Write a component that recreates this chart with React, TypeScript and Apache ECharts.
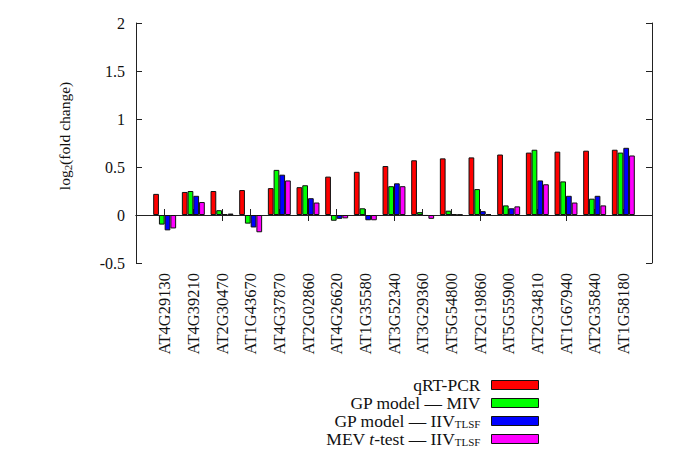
import React, { useEffect, useRef } from "react";
import * as echarts from "echarts";

const genes = [
  "AT4G29130", "AT4G39210", "AT2G30470", "AT1G43670", "AT4G37870", "AT2G02860",
  "AT4G26620", "AT1G35580", "AT3G52340", "AT3G29360", "AT5G54800", "AT2G19860",
  "AT5G55900", "AT2G34810", "AT1G67940", "AT2G35840", "AT1G58180",
];
const qrtPcr = [0.22, 0.24, 0.25, 0.26, 0.28, 0.29, 0.40, 0.45, 0.51, 0.57, 0.59, 0.60, 0.63, 0.65, 0.66, 0.67, 0.68];
const gpMiv = [-0.10, 0.25, 0.05, -0.09, 0.47, 0.31, -0.06, 0.07, 0.30, 0.03, 0.045, 0.27, 0.10, 0.68, 0.35, 0.17, 0.65];
const gpIiv = [-0.16, 0.20, 0.01, -0.13, 0.42, 0.175, -0.04, -0.055, 0.33, -0.01, 0.01, 0.04, 0.07, 0.36, 0.20, 0.20, 0.70];
const mevIiv = [-0.14, 0.135, 0.015, -0.18, 0.36, 0.13, -0.035, -0.055, 0.30, -0.04, 0.005, 0.01, 0.09, 0.32, 0.13, 0.10, 0.62];
const seriesNames = ["qRT-PCR", "GP model — MIV", "GP model — IIV_TLSF", "MEV t-test — IIV_TLSF"];
const seriesColors = ["#ff0000", "#00ff00", "#0000ff", "#ff00ff"];
const yTicks = [-0.5, 0, 0.5, 1, 1.5, 2];

const FONT = "Liberation Serif";

export default function App() {
  const ref = useRef<HTMLDivElement>(null);
  useEffect(() => {
    if (!ref.current) return;
    const chart = echarts.init(ref.current, null, { renderer: "svg" });
    const cats = ["", ...genes, ""];
    const pad = (a: number[]) => ["-", ...a, "-"];
    const allData = [qrtPcr, gpMiv, gpIiv, mevIiv];
    const axisLine = { show: true, lineStyle: { color: "#222", width: 1 } };
    const tick = { show: true, inside: true, length: 6, lineStyle: { color: "#222", width: 1 } };
    chart.setOption({
      animation: false,
      backgroundColor: "#fff",
      textStyle: { fontFamily: FONT },
      grid: { left: 136, right: 33, top: 23, bottom: 186 },
      legend: {
        orient: "vertical",
        right: 146,
        top: 376,
        height: 72,
        padding: 0,
        align: "right",
        itemWidth: 47,
        itemHeight: 9,
        itemGap: 0,
        icon: "rect",
        itemStyle: { borderColor: "#111", borderWidth: 1 },
        textStyle: {
          fontFamily: FONT,
          fontSize: 17.5,
          color: "#111",
          padding: [0, 6, 0, 0],
          rich: {
            n: { fontFamily: FONT, fontSize: 17.5, lineHeight: 17.6, color: "#111" },
            i: { fontFamily: FONT, fontSize: 17.5, lineHeight: 17.6, fontStyle: "italic", color: "#111" },
            s: { fontFamily: FONT, fontSize: 11, lineHeight: 11, color: "#111", padding: [6, 0, 0, 0] },
          },
        },
        formatter: (name: string) => {
          if (name === "GP model — IIV_TLSF") return "{n|GP model — IIV}{s|TLSF}";
          if (name === "MEV t-test — IIV_TLSF") return "{n|MEV }{i|t}{n|-test — IIV}{s|TLSF}";
          return "{n|" + name + "}";
        },
        data: seriesNames,
      },
      xAxis: [
        {
          type: "category",
          data: cats,
          boundaryGap: false,
          position: "bottom",
          axisLine,
          axisTick: tick,
          axisLabel: {
            rotate: 90,
            margin: 10,
            fontFamily: FONT,
            fontSize: 16.5,
            color: "#111",
            interval: 0,
          },
          splitLine: { show: false },
        },
        {
          type: "category",
          data: cats,
          boundaryGap: false,
          position: "top",
          axisLine,
          axisTick: tick,
          axisLabel: { show: false },
          splitLine: { show: false },
        },
      ],
      yAxis: [
        {
          type: "value",
          min: -0.5,
          max: 2,
          interval: 0.5,
          position: "left",
          axisLine,
          axisTick: tick,
          splitLine: { show: false },
          axisLabel: {
            margin: 11,
            fontFamily: FONT,
            fontSize: 16,
            color: "#111",
            formatter: (v: number) => {
              const t = yTicks.find((x) => Math.abs(x - v) < 1e-9);
              return t === undefined ? "" : String(t);
            },
          },
          name: "{n|log}{s|2}{n|(fold change)}",
          nameLocation: "middle",
          nameGap: 63,
          nameRotate: 90,
          nameTextStyle: {
            fontFamily: FONT,
            fontSize: 15.5,
            color: "#111",
            padding: [0, 0, 0, 14],
            rich: {
              n: { fontFamily: FONT, fontSize: 15.5, color: "#111" },
              s: { fontFamily: FONT, fontSize: 11, color: "#111", padding: [7, 0, 0, 0] },
            },
          },
        },
        {
          type: "value",
          min: -0.5,
          max: 2,
          interval: 0.5,
          position: "right",
          axisLine,
          axisTick: tick,
          axisLabel: { show: false },
          splitLine: { show: false },
        },
      ],
      series: allData.map((d, k) => ({
        name: seriesNames[k],
        type: "bar",
        xAxisIndex: 0,
        yAxisIndex: 0,
        data: pad(d),
        barWidth: "20%",
        barGap: "0%",
        itemStyle: { color: seriesColors[k], borderColor: "#111", borderWidth: 1 },
      })),
    });
    return () => chart.dispose();
  }, []);
  return (
    <div
      ref={ref}
      style={{ position: "fixed", left: 0, top: 0, width: 685, height: 449, background: "#fff" }}
    />
  );
}
